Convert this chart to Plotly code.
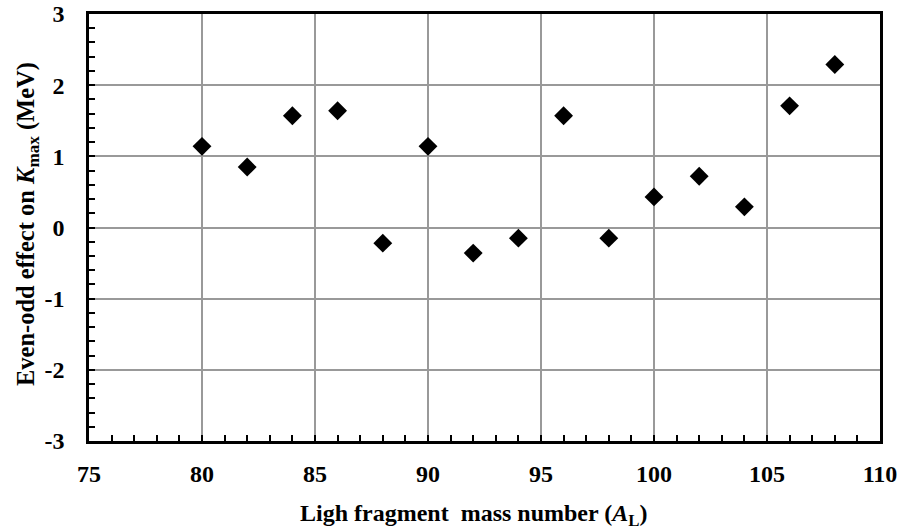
import plotly.graph_objects as go

mass_number = [80, 82, 84, 86, 88, 90, 92, 94, 96, 98, 100, 102, 104, 106, 108]
even_odd_kmax = [1.14, 0.85, 1.57, 1.64, -0.22, 1.14, -0.36, -0.15, 1.57, -0.15, 0.43, 0.72, 0.29, 1.71, 2.29]

x_tick_vals = [75, 80, 85, 90, 95, 100, 105, 110]
x_tick_text = ["75", "80", "85", "90", "95", "100", "105", "110"]
y_tick_vals = [-3, -2, -1, 0, 1, 2, 3]
y_tick_text = ["-3", "-2", "-1", "0", "1", "2", "3"]
x_title = "<b>Ligh fragment  mass number (<i>A</i><sub>L</sub>)</b>"
y_title = "<b>Even-odd effect on <i>K</i><sub>max</sub> (MeV)</b>"

FONT = "Liberation Serif"

fig = go.Figure()
fig.add_trace(go.Scatter(
    x=mass_number, y=even_odd_kmax, mode="markers",
    marker=dict(symbol="diamond", size=14.5, color="black", line=dict(width=0)),
    showlegend=False,
))

axis_common = dict(
    showline=True, linecolor="black", linewidth=2.5, mirror=True,
    showgrid=True, gridcolor="#999999", gridwidth=1.5,
    zeroline=False, automargin=False,
    ticks="inside", ticklen=6, tickwidth=2, tickcolor="black",
    tickfont=dict(family=FONT, size=24, color="black"),
)

fig.update_xaxes(
    range=[75, 110],
    tickvals=x_tick_vals, ticktext=["<b>%s</b>" % t for t in x_tick_text],
    ticklabelstandoff=9,
    minor=dict(dtick=1, tick0=75, ticks="inside", ticklen=6, tickwidth=2, tickcolor="black", showgrid=False),
    **axis_common,
)
fig.update_yaxes(
    range=[-3, 3],
    tickvals=y_tick_vals, ticktext=["<b>%s</b>" % t for t in y_tick_text],
    ticklabelstandoff=17,
    minor=dict(dtick=0.2, tick0=0, ticks="inside", ticklen=6, tickwidth=2, tickcolor="black", showgrid=False),
    **axis_common,
)

fig.add_annotation(
    text=x_title, xref="paper", yref="paper", x=0.486, y=-0.173,
    xanchor="center", yanchor="middle", showarrow=False,
    font=dict(family=FONT, size=24, color="black"),
)
fig.add_annotation(
    text=y_title, xref="paper", yref="paper", x=-0.0784, y=0.508,
    xanchor="center", yanchor="middle", showarrow=False, textangle=-90,
    font=dict(family=FONT, size=24.5, color="black"),
)

fig.update_layout(
    width=905, height=531,
    margin=dict(l=89, r=25, t=14, b=90),
    plot_bgcolor="white", paper_bgcolor="white",
)

fig.write_html("out.html", config={"displayModeBar": False},
               post_script="document.body.style.margin='0';")
